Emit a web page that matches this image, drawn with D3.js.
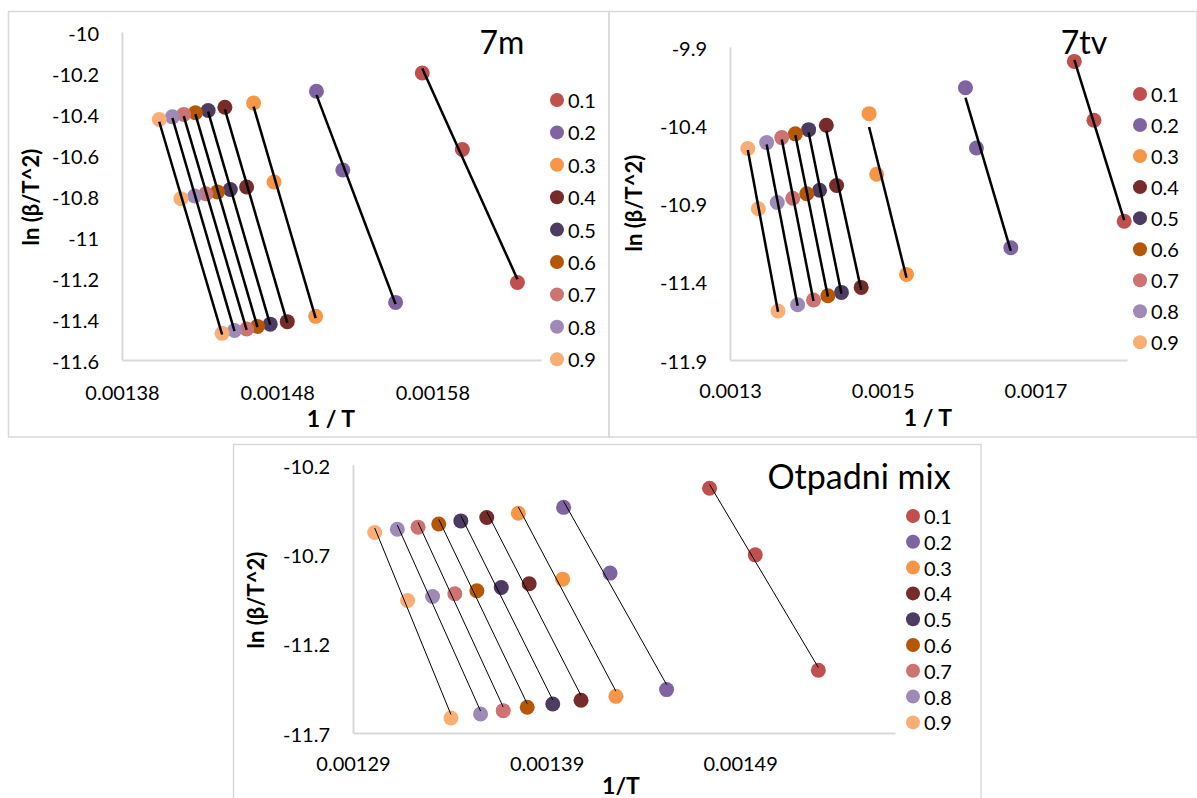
<!DOCTYPE html>
<html>
<head>
<meta charset="utf-8">
<script src="https://cdn.jsdelivr.net/npm/d3@7"></script>
<style>
  body { margin: 0; background: #fff; }
  svg { display: block; }
  text { font-family: Lato, "Open Sans", sans-serif; fill: #000; }
</style>
</head>
<body>
<svg id="chart" width="1197" height="798"></svg>
<script>
// ---------- data ----------
const seriesLabels = ["0.1", "0.2", "0.3", "0.4", "0.5", "0.6", "0.7", "0.8", "0.9"];

// Panel "7m"
const m7X = [
  [0.0015735, 0.0015993, 0.0016348],
  [0.0015053, 0.0015223, 0.0015563],
  [0.0014648, 0.0014780, 0.0015048],
  [0.0014463, 0.0014603, 0.0014865],
  [0.0014355, 0.0014498, 0.0014755],
  [0.0014273, 0.0014415, 0.0014673],
  [0.0014198, 0.0014340, 0.0014603],
  [0.0014125, 0.0014268, 0.0014525],
  [0.0014040, 0.0014180, 0.0014445]
];
const m7Y = [
  [-10.200, -10.573, -11.222],
  [-10.289, -10.673, -11.319],
  [-10.346, -10.732, -11.387],
  [-10.367, -10.756, -11.413],
  [-10.383, -10.768, -11.425],
  [-10.394, -10.780, -11.436],
  [-10.402, -10.789, -11.449],
  [-10.414, -10.800, -11.456],
  [-10.427, -10.813, -11.470]
];
const m7XTicks = [0.00138, 0.00148, 0.00158];
const m7YTicks = [-10, -10.2, -10.4, -10.6, -10.8, -11, -11.2, -11.4, -11.6];

// Panel "7tv"
const tvX = [
  [0.0017510, 0.0017767, 0.0018163],
  [0.0016084, 0.0016228, 0.0016678],
  [0.0014822, 0.0014921, 0.0015312],
  [0.0014262, 0.0014396, 0.0014718],
  [0.0014030, 0.0014173, 0.0014460],
  [0.0013856, 0.0014005, 0.0014282],
  [0.0013678, 0.0013822, 0.0014094],
  [0.0013480, 0.0013619, 0.0013886],
  [0.0013233, 0.0013371, 0.0013629]
];
const tvY = [
  [-9.992, -10.368, -11.013],
  [-10.160, -10.545, -11.183],
  [-10.326, -10.713, -11.353],
  [-10.400, -10.785, -11.436],
  [-10.428, -10.815, -11.468],
  [-10.455, -10.838, -11.489],
  [-10.479, -10.866, -11.517],
  [-10.511, -10.894, -11.547],
  [-10.549, -10.934, -11.587]
];
const tvXTicks = [0.0013, 0.0015, 0.0017];
const tvYTicks = [-9.9, -10.4, -10.9, -11.4, -11.9];

// Panel "Otpadni mix"
const mixX = [
  [0.0014742, 0.0014978, 0.0015304],
  [0.0013988, 0.0014228, 0.0014520],
  [0.0013754, 0.0013983, 0.0014258],
  [0.0013591, 0.0013810, 0.0014078],
  [0.0013457, 0.0013666, 0.0013932],
  [0.0013343, 0.0013540, 0.0013800],
  [0.0013236, 0.0013426, 0.0013676],
  [0.0013129, 0.0013311, 0.0013559],
  [0.0013012, 0.0013182, 0.0013406]
];
const mixY = [
  [-10.330, -10.703, -11.349],
  [-10.437, -10.805, -11.457],
  [-10.470, -10.839, -11.495],
  [-10.494, -10.865, -11.517],
  [-10.513, -10.886, -11.538],
  [-10.530, -10.904, -11.556],
  [-10.548, -10.921, -11.575],
  [-10.560, -10.936, -11.594],
  [-10.578, -10.958, -11.616]
];
const mixXTicks = [0.00129, 0.00139, 0.00149];
const mixYTicks = [-10.2, -10.7, -11.2, -11.7];

// ---------- styles ----------
const colors = ["#C0504D", "#8064A2", "#F79646", "#772C2A", "#4D3B62",
                "#B65708", "#CD7371", "#9F8AB7", "#F9AF74"];

const svg = d3.select("#chart");

// panel frames
const frames = [
  {x: 8.5, y: 11.5, w: 600.5, h: 425.5},
  {x: 609, y: 11.5, w: 588, h: 425.5},
  {x: 233.5, y: 444.5, w: 747.5, h: 360}
];
frames.forEach(f => {
  svg.append("rect").attr("x", f.x).attr("y", f.y).attr("width", f.w).attr("height", f.h)
    .attr("fill", "none").attr("stroke", "#D9D9D9").attr("stroke-width", 1.5);
});

const panels = [
  {xs: m7X, ys: m7Y, xTicks: m7XTicks, yTicks: m7YTicks,
   xDom: [0.00138, 0.00165], yDom: [-11.6, -10],
   left: 122, right: 541, top: 32, bottom: 360,
   xFmt: d3.format(".5f"), yFmt: d => String(+d.toFixed(1)),
   title: "7m", titleSize: 32, titleX: 502, titleY: 41,
   xTitle: "1 / T", xTitleX: 331, xTitleY: 418,
   yTitleX: 30, yTitleY: 197,
   xLabY: 392, legX: 557, legY0: 100, legDy: 32.4, lineW: 2.5},
  {xs: tvX, ys: tvY, xTicks: tvXTicks, yTicks: tvYTicks,
   xDom: [0.0013, 0.00182], yDom: [-11.9, -9.9],
   left: 730, right: 1127, top: 47, bottom: 360,
   xFmt: d3.format(".4f"), yFmt: d => String(+d.toFixed(1)),
   title: "7tv", titleSize: 32, titleX: 1084, titleY: 41,
   xTitle: "1 / T", xTitleX: 928, xTitleY: 417,
   yTitleX: 633, yTitleY: 203,
   xLabY: 390, legX: 1140, legY0: 94, legDy: 31.04, lineW: 2.5},
  {xs: mixX, ys: mixY, xTicks: mixXTicks, yTicks: mixYTicks,
   xDom: [0.00129, 0.00157], yDom: [-11.7, -10.2],
   left: 353, right: 895, top: 465, bottom: 733,
   xFmt: d3.format(".5f"), yFmt: d => String(+d.toFixed(1)),
   title: "Otpadni mix", titleSize: 34, titleX: 859, titleY: 475,
   xTitle: "1/T", xTitleX: 621, xTitleY: 785,
   yTitleX: 255, yTitleY: 600,
   xLabY: 763, legX: 913, legY0: 516, legDy: 25.8, lineW: 1}
];

function linreg(xs, ys) {
  const n = xs.length;
  const mx = d3.mean(xs), my = d3.mean(ys);
  let sxy = 0, sxx = 0;
  for (let i = 0; i < n; i++) { sxy += (xs[i] - mx) * (ys[i] - my); sxx += (xs[i] - mx) ** 2; }
  const b = sxy / sxx;
  return {b, a: my - b * mx};
}

panels.forEach(p => {
  const x = d3.scaleLinear().domain(p.xDom).range([p.left, p.right]);
  const y = d3.scaleLinear().domain(p.yDom).range([p.bottom, p.top]);
  const g = svg.append("g");

  // axes
  const xAxis = g.append("g").attr("transform", `translate(0,${p.bottom})`)
    .call(d3.axisBottom(x).tickValues(p.xTicks).tickSize(0).tickFormat(p.xFmt));
  xAxis.select(".domain").attr("stroke", "#D9D9D9").attr("stroke-width", 2);
  xAxis.selectAll("text").attr("font-size", 20).attr("dy", null)
    .attr("y", p.xLabY - p.bottom).attr("dominant-baseline", "central")
    .attr("font-family", "Lato, sans-serif");

  const yAxis = g.append("g").attr("transform", `translate(${p.left},0)`)
    .call(d3.axisLeft(y).tickValues(p.yTicks).tickSize(0).tickFormat(p.yFmt));
  yAxis.select(".domain").attr("stroke", "#D9D9D9").attr("stroke-width", 2);
  yAxis.selectAll("text").attr("font-size", 20).attr("dy", null)
    .attr("x", -23).attr("dominant-baseline", "central")
    .attr("font-family", "Lato, sans-serif");

  // markers
  p.xs.forEach((xsArr, si) => {
    g.append("g").selectAll("circle").data(xsArr.map((v, i) => [v, p.ys[si][i]]))
      .join("circle")
      .attr("cx", d => x(d[0])).attr("cy", d => y(d[1])).attr("r", 7.5)
      .attr("fill", colors[si]);
  });

  // trendlines
  p.xs.forEach((xsArr, si) => {
    const r = linreg(xsArr, p.ys[si]);
    const x0 = d3.min(xsArr), x1 = d3.max(xsArr);
    g.append("line")
      .attr("x1", x(x0)).attr("y1", y(r.a + r.b * x0))
      .attr("x2", x(x1)).attr("y2", y(r.a + r.b * x1))
      .attr("stroke", "#000").attr("stroke-width", p.lineW);
  });

  // titles
  g.append("text").attr("x", p.titleX).attr("y", p.titleY)
    .attr("text-anchor", "middle").attr("dominant-baseline", "central")
    .attr("font-size", p.titleSize).text(p.title);
  g.append("text").attr("x", p.xTitleX).attr("y", p.xTitleY)
    .attr("text-anchor", "middle").attr("dominant-baseline", "central")
    .attr("font-size", 23).attr("font-weight", "bold").text(p.xTitle);
  g.append("text")
    .attr("transform", `translate(${p.yTitleX},${p.yTitleY}) rotate(-90)`)
    .attr("text-anchor", "middle").attr("dominant-baseline", "central")
    .attr("font-size", 22).attr("font-weight", "bold").text("ln (β/T^2)");

  // legend
  const leg = g.append("g");
  seriesLabels.forEach((lab, i) => {
    const ly = p.legY0 + i * p.legDy;
    leg.append("circle").attr("cx", p.legX).attr("cy", ly).attr("r", 7).attr("fill", colors[i]);
    leg.append("text").attr("x", p.legX + 11).attr("y", ly)
      .attr("dominant-baseline", "central").attr("font-size", 20).text(lab);
  });
});
</script>
</body>
</html>
